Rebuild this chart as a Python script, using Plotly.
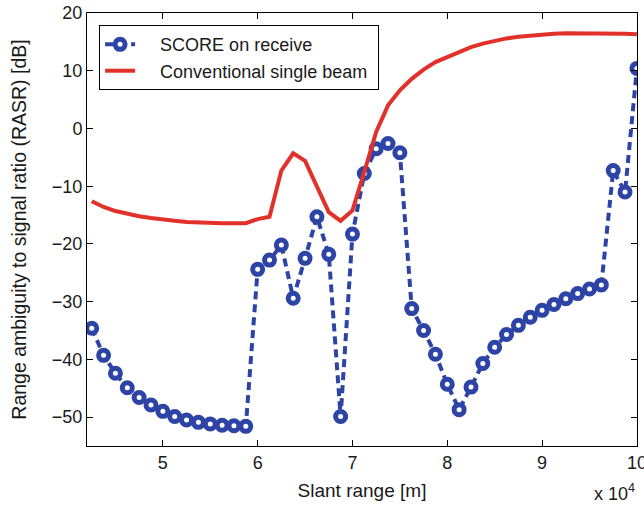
import plotly.graph_objects as go

# Slant range samples [m]
slant_range = [42500, 43750, 45000, 46250, 47500, 48750, 50000, 51250, 52500, 53750,
               55000, 56250, 57500, 58750, 60000, 61250, 62500, 63750, 65000, 66250,
               67500, 68750, 70000, 71250, 72500, 73750, 75000, 76250, 77500, 78750,
               80000, 81250, 82500, 83750, 85000, 86250, 87500, 88750, 90000, 91250,
               92500, 93750, 95000, 96250, 97500, 98750, 100000]

# RASR with SCORE on receive [dB]
rasr_score = [-34.6, -39.3, -42.4, -44.9, -46.6, -47.9, -49.0, -49.9, -50.5, -50.9,
              -51.2, -51.4, -51.5, -51.6, -24.4, -22.8, -20.2, -29.4, -22.5, -15.3,
              -21.8, -49.9, -18.3, -7.8, -3.5, -2.6, -4.2, -31.2, -35.0, -39.1,
              -44.3, -48.7, -44.8, -40.7, -37.9, -35.7, -34.1, -32.7, -31.5, -30.5,
              -29.5, -28.6, -27.8, -27.1, -7.3, -11.0, 10.4]

# RASR with the conventional single beam [dB]
rasr_single = [-12.6, -13.6, -14.3, -14.8, -15.2, -15.5, -15.8, -16.0, -16.2, -16.3,
               -16.4, -16.4, -16.4, -16.4, -15.7, -15.3, -7.3, -4.3, -5.6, -9.9,
               -14.5, -16.0, -14.2, -7.5, -0.6, 4.0, 6.6, 8.6, 10.2, 11.5,
               12.4, 13.3, 14.1, 14.7, 15.2, 15.6, 15.9, 16.1, 16.3, 16.4,
               16.5, 16.5, 16.5, 16.5, 16.5, 16.4, 16.3]

x_ticks = [50000, 60000, 70000, 80000, 90000, 100000]
x_tick_labels = ["5", "6", "7", "8", "9", "10"]
y_ticks = [-50, -40, -30, -20, -10, 0, 10, 20]

BLUE = "#2D44A6"
RED = "#E2312A"
TXT = "#1a1a1a"
FONT = "Liberation Sans, Arial, Helvetica, sans-serif"
NB = "\u00a0"

fig = go.Figure()

fig.add_trace(go.Scatter(
    x=slant_range, y=rasr_score, mode="lines+markers",
    name=NB * 4 + "SCORE on receive",
    line=dict(color=BLUE, width=4, dash="8px,5px"),
    marker=dict(symbol="circle", size=10, color="white",
                line=dict(color=BLUE, width=5)),
))

fig.add_trace(go.Scatter(
    x=slant_range, y=rasr_single, mode="lines",
    name=NB * 4 + "Conventional single beam" + NB,
    line=dict(color=RED, width=4),
))

axis_common = dict(
    showline=True, linecolor="black", linewidth=1, mirror="ticks",
    ticks="inside", ticklen=6, tickcolor="black", tickwidth=1,
    showgrid=False, zeroline=False, ticklabeloverflow="allow",
    automargin=False,
    tickfont=dict(family=FONT, size=18, color=TXT),
)

fig.update_layout(
    width=644, height=509,
    margin=dict(l=87, r=7, t=13, b=63, autoexpand=False),
    paper_bgcolor="white", plot_bgcolor="white",
    font=dict(family=FONT, size=18, color=TXT),
    showlegend=True,
    legend=dict(
        x=0.022, y=0.972, xanchor="left", yanchor="top",
        bgcolor="white", bordercolor="black", borderwidth=1,
        font=dict(family=FONT, size=18, color=TXT),
        tracegroupgap=0,
    ),
    xaxis=dict(
        range=[42000, 100010], tickvals=x_ticks, ticktext=x_tick_labels,
        title=dict(text="Slant range [m]", font=dict(family=FONT, size=19), standoff=12),
        **axis_common,
    ),
    yaxis=dict(
        range=[-55, 20], tickvals=y_ticks,
        title=dict(text="Range ambiguity to signal ratio (RASR) [dB]",
                   font=dict(family=FONT, size=19.5), standoff=20),
        **axis_common,
    ),
    annotations=[dict(
        text="x 10<sup>4</sup>", xref="paper", yref="paper",
        x=1.0, y=-0.108, xanchor="right", yanchor="middle", showarrow=False,
        font=dict(family=FONT, size=18, color=TXT),
    )],
)

fig.write_html("out.html")
